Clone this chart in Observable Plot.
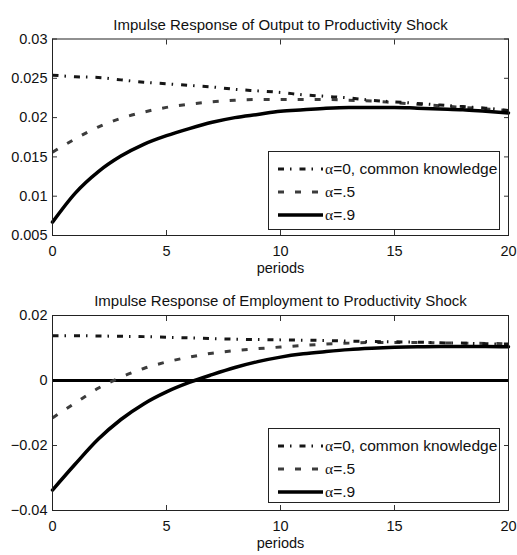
<!DOCTYPE html>
<html><head><meta charset="utf-8">
<script src="https://cdn.jsdelivr.net/npm/d3@7"></script>
<script src="https://cdn.jsdelivr.net/npm/@observablehq/plot@0.6"></script>
<style>
body{margin:0;background:#fff;font-family:"Liberation Sans",Arial,sans-serif;}
#wrap{position:relative;width:517px;height:555px;overflow:hidden;}
.panel{position:absolute;left:0;}
.panel svg{display:block;}
.legend{position:absolute;box-sizing:border-box;border:1px solid #222;background:#fff;font-size:15.5px;color:#111;padding-top:5px;}
.legend .row{display:flex;align-items:center;height:23px;}
.legend svg{display:block;margin-left:9px;margin-right:2px;}
.alpha{font-family:"Liberation Serif","Times New Roman",serif;}
</style></head><body><div id="wrap"></div>
<script>
// ---- data ----
const periods = [0,1,2,3,4,5,6,7,8,9,10,11,12,13,14,15,16,17,18,19,20];
const seriesLabels = ["α=0, common knowledge", "α=.5", "α=.9"];
const xTicks = [0,5,10,15,20];
const outputTicks = [0.005,0.01,0.015,0.02,0.025,0.03];
const employmentTicks = [-0.04,-0.02,0,0.02];

const outputA0 = [.0254,.0252,.0251,.0248,.0245,.0243,.0241,.0239,.0236,.0234,.0232,.0229,.0227,.0225,.0222,.0220,.0218,.0216,.0214,.0212,.0209];
const outputA5 = [.0156,.0173,.0188,.0199,.0207,.0213,.0217,.0220,.0222,.0223,.0223,.0223,.0223,.0222,.0221,.0219,.0217,.0215,.0213,.0211,.0209];
const outputA9 = [.0067,.0104,.0131,.0151,.0166,.0177,.0186,.0194,.0200,.0204,.0208,.0210,.0212,.0213,.0213,.0213,.0212,.0211,.0210,.0208,.0206];

const employmentA0 = [.0138,.0138,.0137,.0136,.0135,.0133,.0131,.0129,.0127,.0126,.0125,.0124,.0123,.0121,.0120,.0119,.0118,.0116,.0115,.0113,.0112];
const employmentA5 = [-.0115,-.0069,-.0024,.0010,.0037,.0057,.0072,.0084,.0092,.0098,.0103,.0108,.0112,.0115,.0117,.0117,.0117,.0116,.0115,.0114,.0113];
const employmentA9 = [-.0337,-.0257,-.0181,-.0120,-.0072,-.0035,-.0006,.0018,.0040,.0058,.0072,.0082,.0089,.0095,.0099,.0102,.0104,.0105,.0105,.0105,.0104];

// ---- styles ----
const lineStyles = [
  {stroke:"#161616", strokeWidth:3, strokeDasharray:"6,6,1.5,8", cap:"butt"},
  {stroke:"#3c3c3c", strokeWidth:3, strokeDasharray:"6,11", cap:"butt"},
  {stroke:"#000", strokeWidth:3.5, strokeDasharray:null, cap:"round"}
];
const font = '"Liberation Sans", Arial, sans-serif';

function rows(vals){ return periods.map((p,i)=>({period:p, value:vals[i]})); }

function panel({title, series, domain, ticks, height, marginTop, zero, top, legendTop, legendHeight}){
  const wrap = document.getElementById("wrap");
  const div = document.createElement("div");
  div.className = "panel"; div.style.top = top + "px";
  const marks = [
    Plot.axisX(xTicks, {tickSize:-5, tickPadding:15, tickFormat:d=>String(d), label:null, stroke:"#333", color:"#111"}),
    Plot.axisX(xTicks, {anchor:"top", tickSize:-5, tickFormat:()=>"", label:null, stroke:"#333"}),
    Plot.axisY(ticks, {tickSize:-5, tickPadding:10, tickFormat:d=>d3.format("~g")(d), label:null, stroke:"#333", color:"#111"}),
    Plot.axisY(ticks, {anchor:"right", tickSize:-5, tickFormat:()=>"", label:null, stroke:"#333"}),
  ];
  if (zero) marks.push(Plot.ruleY([0], {stroke:"#000", strokeWidth:3}));
  [1,0,2].forEach(k=>{
    const s = lineStyles[k];
    marks.push(Plot.line(rows(series[k]), {x:"period", y:"value", stroke:s.stroke, strokeWidth:s.strokeWidth, strokeDasharray:s.strokeDasharray, strokeLinecap:s.cap, curve:"monotone-x"}));
  });
  marks.push(Plot.frame({stroke:"#222", strokeWidth:1}));
  marks.push(Plot.text([title], {text:d=>d, frameAnchor:"top", dy:-20, fontSize:15, fill:"#111"}));
  marks.push(Plot.text(["periods"], {text:d=>d, frameAnchor:"bottom", dy:37, fontSize:14.5, fill:"#111"}));
  const chart = Plot.plot({
    width:517, height, marginLeft:52, marginRight:9, marginTop, marginBottom:45,
    x:{domain:[0,20]}, y:{domain},
    style:{fontFamily:font, fontSize:"14.5px", color:"#111", background:"#fff", overflow:"visible"},
    marks
  });
  div.appendChild(chart);
  wrap.appendChild(div);

  const lg = document.createElement("div");
  lg.className = "legend";
  lg.style.left = "268px"; lg.style.top = legendTop + "px";
  lg.style.width = "232px"; lg.style.height = legendHeight + "px";
  seriesLabels.forEach((lab,k)=>{
    const s = lineStyles[k];
    const row = document.createElement("div"); row.className = "row";
    const ns = "http://www.w3.org/2000/svg";
    const sv = document.createElementNS(ns,"svg");
    sv.setAttribute("width","45"); sv.setAttribute("height","8");
    const ln = document.createElementNS(ns,"line");
    ln.setAttribute("x1","0"); ln.setAttribute("x2","45"); ln.setAttribute("y1","4"); ln.setAttribute("y2","4");
    ln.setAttribute("stroke", s.stroke); ln.setAttribute("stroke-width", s.strokeWidth);
    ln.setAttribute("stroke-linecap", "butt");
    if (s.strokeDasharray) ln.setAttribute("stroke-dasharray", s.strokeDasharray);
    sv.appendChild(ln);
    row.appendChild(sv);
    const t = document.createElement("span");
    t.innerHTML = '<span class="alpha">α</span>' + lab.slice(1);
    row.appendChild(t);
    lg.appendChild(row);
  });
  wrap.appendChild(lg);
}

panel({title:"Impulse Response of Output to Productivity Shock", series:[outputA0,outputA5,outputA9],
  domain:[0.005,0.03], ticks:outputTicks, height:280, marginTop:38.5, zero:false, top:0, legendTop:151, legendHeight:79});
panel({title:"Impulse Response of Employment to Productivity Shock", series:[employmentA0,employmentA5,employmentA9],
  domain:[-0.04,0.02], ticks:employmentTicks, height:275, marginTop:35, zero:true, top:280, legendTop:428, legendHeight:75});
</script></body></html>
